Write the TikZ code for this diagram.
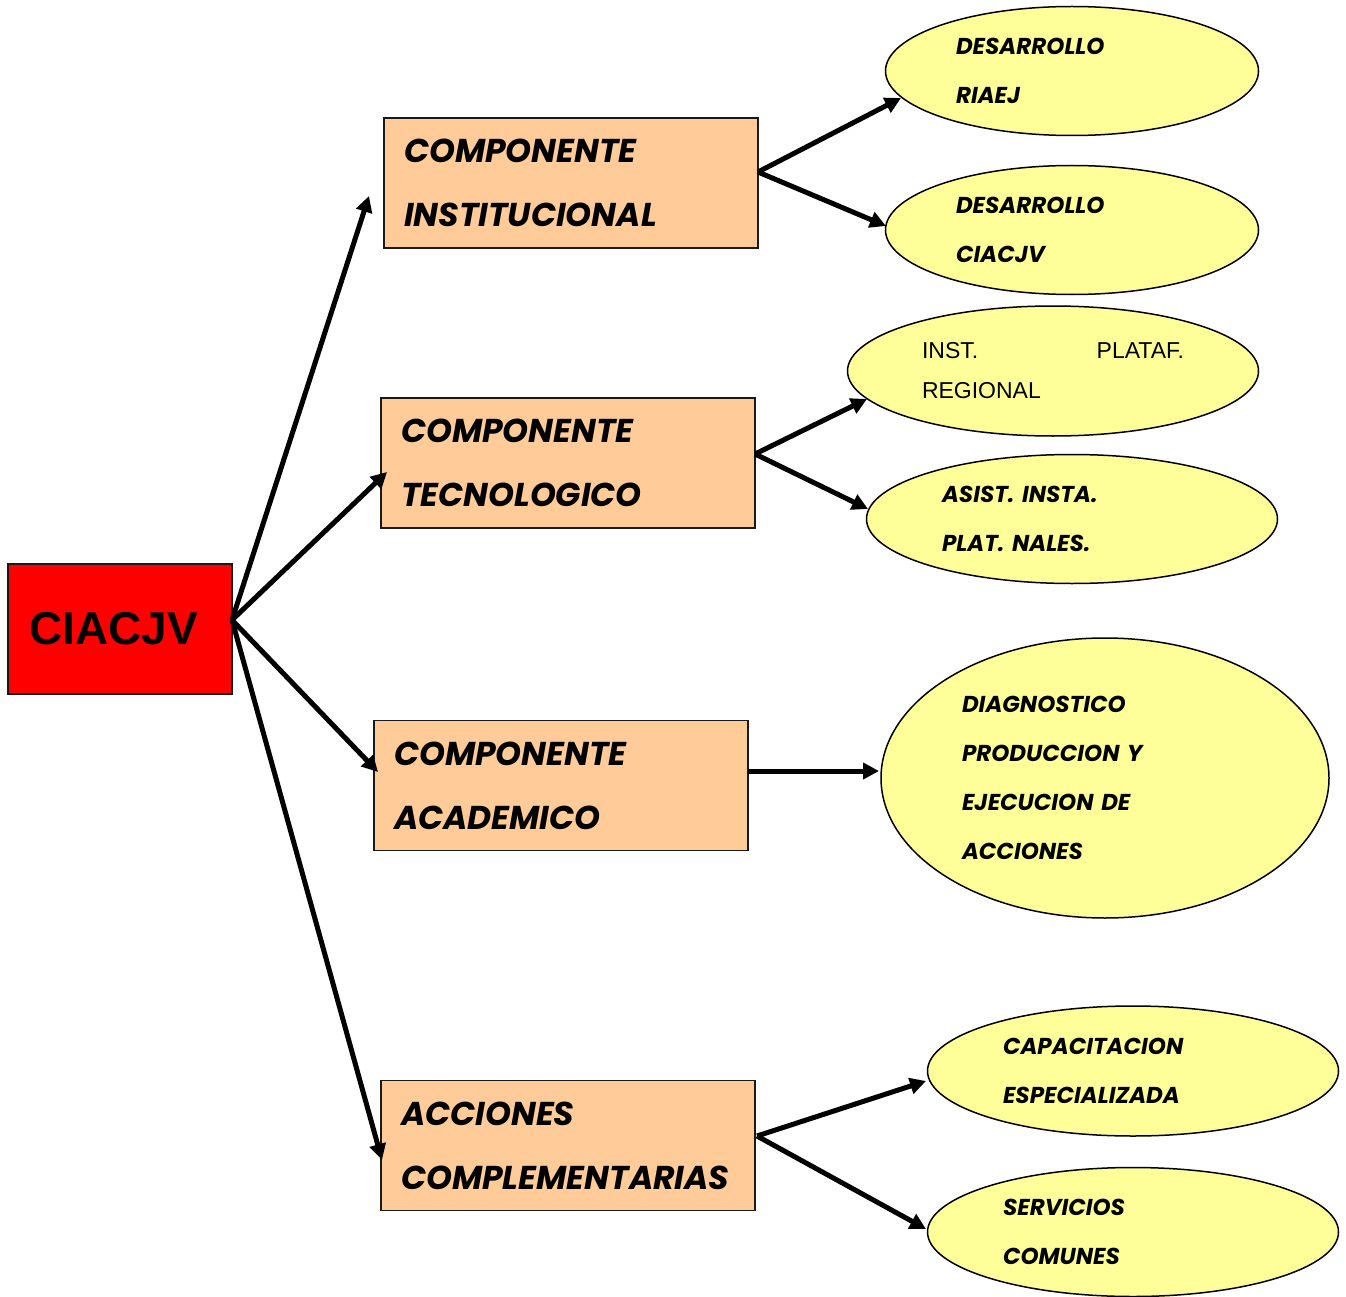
\documentclass[tikz,border=0pt]{standalone}
\usepackage{fontspec}
\setmainfont{Liberation Sans}
\newfontfamily\comic{Poppins}
\usetikzlibrary{shapes.geometric,arrows.meta}
\definecolor{hubred}{HTML}{FF0000}
\definecolor{peach}{HTML}{FFCC99}
\definecolor{paleyellow}{HTML}{FFFF99}
\begin{document}
\begin{tikzpicture}[x=1pt,y=-1pt,
  hubbox/.style={draw=black!90,line width=2pt,fill=hubred,minimum width=224pt,minimum height=130pt,
    inner sep=0pt,font=\fontsize{46}{50}\selectfont\bfseries},
  compbox/.style={draw=black!90,line width=1.5pt,fill=peach,minimum width=374pt,minimum height=130pt,
    text width=334pt,inner xsep=20pt,inner ysep=0pt,align=left,
    font=\comic\fontsize{33}{64}\selectfont\bfseries\itshape},
  leaf/.style={ellipse,draw=black,line width=1.5pt,fill=paleyellow,inner sep=0pt,align=left,
    font=\comic\fontsize{23}{49}\selectfont\bfseries\itshape},
  leafplain/.style={leaf,font=\fontsize{23}{40}\selectfont},
  conn/.style={line width=5pt,-{Triangle[length=16pt,width=16pt]}}
]
\useasboundingbox (0,0) rectangle (1346,1297);

% central node
\node[hubbox] (hub) at (120,629) {\hspace*{-13pt}\raisebox{-3pt}{CIACJV}};

% components
\node[compbox] (inst) at (571,183) {COMPONENTE\\INSTITUCIONAL};
\node[compbox] (tec) at (568,463) {COMPONENTE\\TECNOLOGICO};
\node[compbox] (acad) at (561,785.5) {COMPONENTE\\ACADEMICO};
\node[compbox] (compl) at (568,1145.5) {ACCIONES\\COMPLEMENTARIAS};

% leaves
\node[leaf,minimum width=373pt,minimum height=129pt,text width=232pt] (riaej) at (1072,71) {DESARROLLO\\RIAEJ};
\node[leaf,minimum width=373pt,minimum height=129pt,text width=232pt] (ciacjv) at (1072,230) {DESARROLLO\\CIACJV};
\node[leafplain,minimum width=411pt,minimum height=130pt,text width=262pt] (plataf) at (1053,371) {INST.\hfill PLATAF.\\REGIONAL\\[6pt]};
\node[leaf,minimum width=411pt,minimum height=129pt,text width=260pt] (asist) at (1072,519) {ASIST. INSTA.\\PLAT. NALES.};
\node[leaf,minimum width=448pt,minimum height=280pt,text width=286pt] (diag) at (1105,778) {DIAGNOSTICO\\PRODUCCION Y\\EJECUCION DE\\ACCIONES};
\node[leaf,minimum width=411pt,minimum height=130pt,text width=260pt] (capac) at (1133,1071) {CAPACITACION\\ESPECIALIZADA};
\node[leaf,minimum width=411pt,minimum height=129pt,text width=260pt] (serv) at (1133,1232) {SERVICIOS\\COMUNES};

% connector end points
\coordinate (hubout) at (232,620);
\coordinate (toinst) at (369,196);
\coordinate (totec) at (387,472);
\coordinate (toacad) at (378,772);
\coordinate (tocompl) at (382,1160);
\coordinate (instout) at (758,172);
\coordinate (toriaej) at (901,98);
\coordinate (tociacjv) at (886,226);
\coordinate (tecout) at (755,454);
\coordinate (toplataf) at (867,399);
\coordinate (toasist) at (868,509);
\coordinate (acadout) at (748,771);
\coordinate (todiag) at (879,771);
\coordinate (complout) at (757,1136);
\coordinate (tocapac) at (926,1081);
\coordinate (toserv) at (926,1229);

\draw[conn] (hubout) -- (toinst);
\draw[conn] (hubout) -- (totec);
\draw[conn] (hubout) -- (toacad);
\draw[conn] (hubout) -- (tocompl);
\draw[conn] (instout) -- (toriaej);
\draw[conn] (instout) -- (tociacjv);
\draw[conn] (tecout) -- (toplataf);
\draw[conn] (tecout) -- (toasist);
\draw[conn] (acadout) -- (todiag);
\draw[conn] (complout) -- (tocapac);
\draw[conn] (complout) -- (toserv);
\end{tikzpicture}
\end{document}
